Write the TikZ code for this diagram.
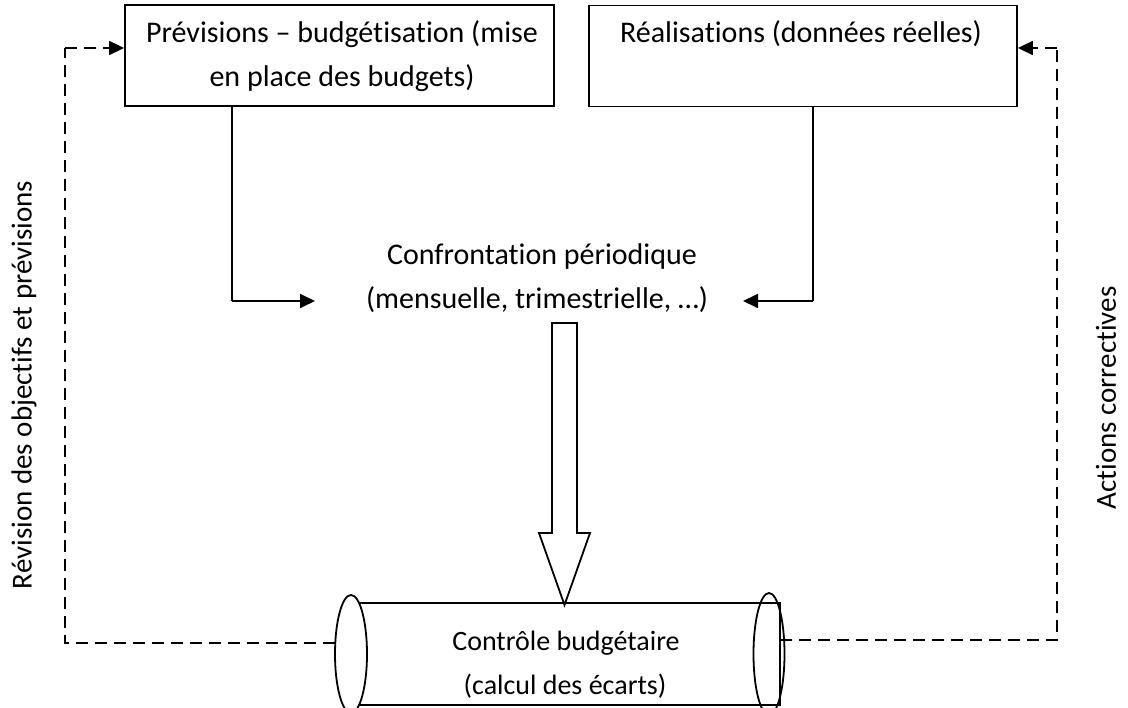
\documentclass[tikz,border=0pt]{standalone}
\usepackage{fontspec}
\setmainfont{Carlito}[Ligatures={NoCommon}]
\usetikzlibrary{arrows.meta}
\begin{document}
\begin{tikzpicture}[x=1pt,y=-1pt,
  every node/.style={font=\fontsize{30}{44}\selectfont, inner sep=0pt},
  line/.style={line width=1.8pt},
  boxframe/.style={draw, line width=1.8pt, minimum width=#1, minimum height=101pt},
  arr/.style={line width=1.8pt, -{Triangle[length=15pt,width=14pt]}},
  dashline/.style={line width=1.8pt, dash pattern=on 12pt off 7pt},
  dasharr/.style={dashline, -{Triangle[length=15pt,width=14pt]}},
  lbl/.style={anchor=base},
  cyltext/.style={anchor=base, font=\fontsize{28}{44}\selectfont},
  sidetext/.style={rotate=90, font=\fontsize{29}{44}\selectfont}]
  \useasboundingbox (0,0) rectangle (1128,708);
  \clip (0,0) rectangle (1128,708);

  % top boxes
  \node[boxframe=429pt] (prev) at (339.5,55.5) {};
  \node[lbl] (prevA) at (342,43) {Prévisions – budgétisation (mise};
  \node[lbl] (prevB) at (342,87) {en place des budgets)};
  \node[boxframe=428pt] (real) at (803,56) {};
  \node[lbl] (realA) at (801,43) {Réalisations (données réelles)};

  % periodic comparison
  \node[lbl] (confA) at (542,265) {Confrontation périodique};
  \node[lbl] (confB) at (537,309) {(mensuelle, trimestrielle, …)};
  \coordinate (inL) at (315,301);
  \coordinate (inR) at (743,301);
  \coordinate (cornL) at (232,301);
  \coordinate (cornR) at (813,301);
  \draw[line] (prev.south -| cornL) -- (cornL);
  \draw[arr] (cornL) -- (inL);
  \draw[line] (real.south -| cornR) -- (cornR);
  \draw[arr] (cornR) -- (inR);

  % hollow block arrow
  \draw[line, fill=white, line join=miter]
    (552,323) -- (577,323) -- (577,533) -- (590,533) -- (564.5,605)
    -- (539,533) -- (552,533) -- cycle;

  % cylinder
  \draw[line] (350,603) rectangle (780,705);
  \draw[line] (769,654) ellipse [x radius=15.5, y radius=61];
  \draw[line, fill=white] (351,654) ellipse [x radius=16, y radius=59];
  \coordinate (cylL) at (335,643);
  \coordinate (cylR) at (780,640);
  \node[cyltext] (ctrlA) at (566,650) {Contrôle budgétaire};
  \node[cyltext] (ctrlB) at (565,694) {(calcul des écarts)};

  % feedback loops
  \coordinate (loopL) at (65,48);
  \coordinate (loopR) at (1057,48);
  \draw[dashline] (cylL) -| (loopL);
  \draw[dasharr] (loopL) -- (prev.west |- loopL);
  \draw[dashline] (cylR) -| (loopR);
  \draw[dasharr] (loopR) -- (real.east |- loopR);

  % side labels
  \node[sidetext] (revis) at (24,385) {Révision des objectifs et prévisions};
  \node[sidetext] (actions) at (1106,398) {Actions correctives};
\end{tikzpicture}
\end{document}
